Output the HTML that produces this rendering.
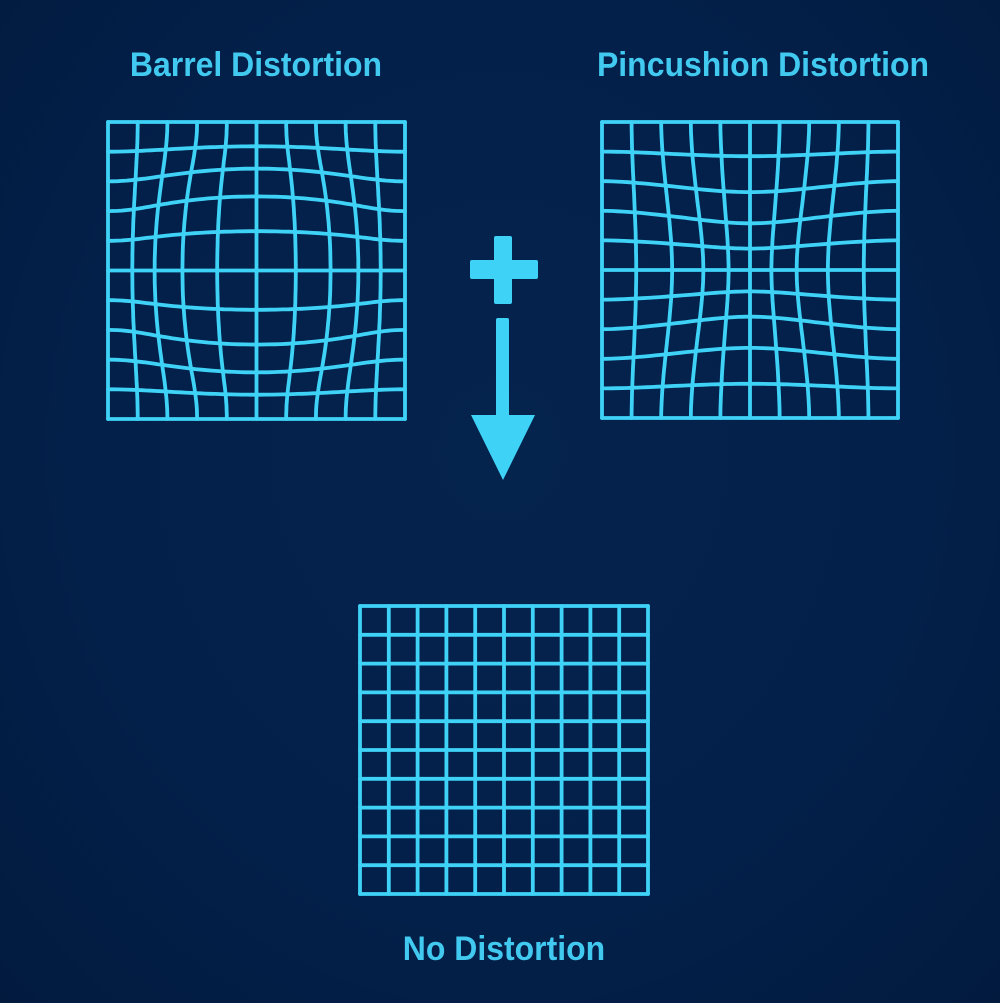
<!DOCTYPE html>
<html><head><meta charset="utf-8"><style>
html,body{margin:0;padding:0}
body{width:1000px;height:1003px;overflow:hidden;background:radial-gradient(ellipse at 50% 45%,#04234d 0%,#03204a 60%,#021a3e 100%);font-family:"Liberation Sans",sans-serif}
.t{position:absolute;color:#41c9f0;font-weight:bold;font-size:34px;white-space:nowrap;transform:translateX(-50%) scaleX(0.94)}
svg{position:absolute;left:0;top:0}
</style></head><body>
<div class="t" style="left:256px;top:46px">Barrel Distortion</div>
<div class="t" style="left:763px;top:46px">Pincushion Distortion</div>
<div class="t" style="left:504px;top:930px">No Distortion</div>
<svg id="s" width="1000" height="1003">
<g fill="#3fd2f7">
<rect x="494" y="236" width="18" height="68" rx="2"/>
<rect x="470" y="260" width="68" height="19" rx="2"/>
</g>
<g fill="#3fd2f7">
<rect x="496" y="318" width="13" height="110" rx="2"/>
<polygon points="471,415 535,415 503,480"/>
</g>
</svg>
<script>
const gridCells = 10;
const gridNames = ['barrel-grid','pincushion-grid','undistorted-grid'];
const gridKinds = [0.35, -0.3, 0];
const gridLeft = [108, 602, 360];
const gridTop = [122, 122, 606];
const gridSize = [297, 296, 288];
const svg = document.getElementById('s');
const NS = 'http://www.w3.org/2000/svg';
function warp(x, y, k) {
  const dx = k * x * Math.pow(1 - x * x, 2) * Math.pow(1 - y * y, 2);
  const dy = k * y * Math.pow(1 - y * y, 2) * Math.pow(1 - x * x, 2);
  return [x + dx, y + dy];
}
for (let g = 0; g < gridNames.length; g++) {
  const grp = document.createElementNS(NS, 'g');
  
  
  const L = gridLeft[g], T = gridTop[g], S = gridSize[g], k = gridKinds[g];
  const px = (u, v) => { const p = warp(u, v, k); return [L + (p[0] + 1) / 2 * S, T + (p[1] + 1) / 2 * S]; };
  for (let dir = 0; dir < 2; dir++) {
    for (let i = 0; i <= gridCells; i++) {
      const c = -1 + 2 * i / gridCells;
      const pts = [];
      for (let j = 0; j <= 60; j++) {
        const t = -1 + 2 * j / 60;
        const p = dir === 0 ? px(t, c) : px(c, t);
        pts.push(p[0].toFixed(1) + ',' + p[1].toFixed(1));
      }
      const pl = document.createElementNS(NS, 'polyline');
      
      
      pl.setAttribute('points', pts.join(' '));
      pl.setAttribute('fill', 'none');
      pl.setAttribute('stroke', '#3fd2f7');
      pl.setAttribute('stroke-width', '3.8');
      pl.setAttribute('stroke-linecap', 'round');
      pl.setAttribute('stroke-linejoin', 'round');
      grp.appendChild(pl);
    }
  }
  svg.appendChild(grp);
}
</script>
</body></html>
